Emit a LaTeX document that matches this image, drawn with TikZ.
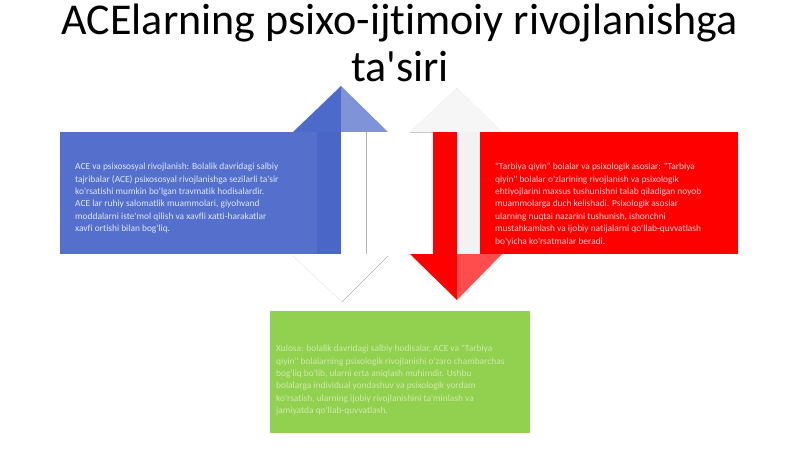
\documentclass[tikz,border=0pt]{standalone}
\usepackage{fontspec}
\setmainfont{Carlito}[Ligatures={TeXOff,CommonOff}]
\definecolor{boxblue}{RGB}{84,112,204}
\definecolor{darkblue}{RGB}{74,102,198}
\definecolor{headblue}{RGB}{76,106,201}
\definecolor{lightblue}{RGB}{127,147,217}
\definecolor{txtblue}{RGB}{222,229,248}
\definecolor{headred}{RGB}{255,77,77}
\definecolor{txtred}{RGB}{255,205,205}
\definecolor{boxgreen}{RGB}{146,208,80}
\definecolor{txtgreen}{RGB}{205,236,170}
\begin{document}
\begin{tikzpicture}[x=1pt,y=-1pt,
  boxtext/.style={anchor=north west,inner sep=0pt,align=left,font=\fontsize{9.4}{12.4}\selectfont},
  titletext/.style={anchor=north,inner sep=0pt,align=center,font=\fontsize{44}{47}\selectfont}]
\useasboundingbox (0,0) rectangle (800,449);

%title
\node[titletext] (title) at (400,4) {ACElarning psixo-ijtimoiy rivojlanishga\\ta'siri};

%1
\fill[boxblue] (60,132) rectangle (341,254);
\fill[darkblue] (317,132) rectangle (341,254);
\fill[headblue] (293,132)--(341,86)--(341,132)--cycle;
\fill[lightblue] (341,86)--(388,132)--(341,132)--cycle;
\draw[gray!60] (366,132)--(366,254);
\fill[white] (293,254)--(388,254)--(342,302)--cycle;
\draw[gray!20] (293,256)--(342,302);
\draw[gray!60] (388,256)--(342,302);
\node[boxtext,text=txtblue] (ace) at (75,163) {ACE va psixososyal rivojlanish: Bolalik davridagi salbiy\\tajribalar (ACE) psixososyal rivojlanishga sezilarli ta'sir\\ko'rsatishi mumkin bo'lgan travmatik hodisalardir.\\ACE lar ruhiy salomatlik muammolari, giyohvand\\moddalarni iste'mol qilish va xavfli xatti-harakatlar\\xavfi ortishi bilan bog'liq.};

%2
\fill[gray!7] (410,132)--(457,88)--(502,132)--cycle;
\draw[gray!12] (410,132)--(457,88)--(502,132);
\draw[gray!45] (410,132)--(433,132);
\fill[red] (480,132) rectangle (738,254);
\fill[red] (433,132) rectangle (457,254);
\fill[gray!10] (457,132) rectangle (480,254);
\fill[red] (410,254)--(457,254)--(457,300)--cycle;
\fill[headred] (457,254)--(502,254)--(457,300)--cycle;
\node[boxtext,text=txtred] (tarbiya) at (495,163) {"Tarbiya qiyin" bolalar va psixologik asoslar: "Tarbiya\\qiyin" bolalar o'zlarining rivojlanish va psixologik\\ehtiyojlarini maxsus tushunishni talab qiladigan noyob\\muammolarga duch kelishadi. Psixologik asoslar\\ularning nuqtai nazarini tushunish, ishonchni\\mustahkamlash va ijobiy natijalarni qo'llab-quvvatlash\\bo'yicha ko'rsatmalar beradi.};

%3
\fill[boxgreen] (270,311) rectangle (530,433);
\node[boxtext,text=txtgreen] (xulosa) at (276,345) {Xulosa: bolalik davridagi salbiy hodisalar, ACE va "Tarbiya\\qiyin" bolalarning psixologik rivojlanishi o'zaro chambarchas\\bog'liq bo'lib, ularni erta aniqlash muhimdir. Ushbu\\bolalarga individual yondashuv va psixologik yordam\\ko'rsatish, ularning ijobiy rivojlanishini ta'minlash va\\jamiyatda qo'llab-quvvatlash.};
\end{tikzpicture}
\end{document}
